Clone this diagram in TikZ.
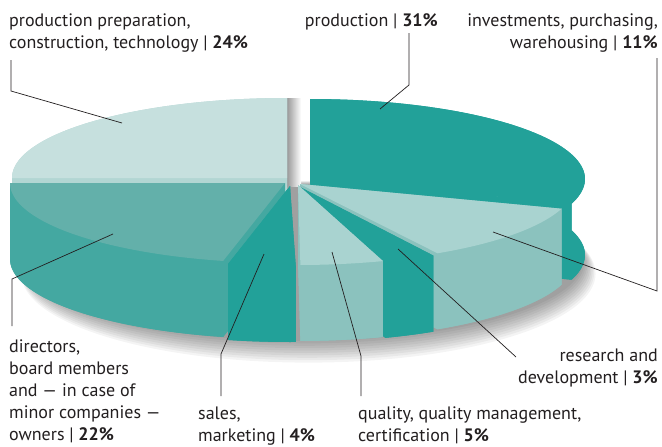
\documentclass[tikz,border=0pt]{standalone}
\usepackage{fontspec}
\setmainfont{PT Sans}
\definecolor{ink}{HTML}{231F20}
\definecolor{ppTop}{HTML}{C6E0DE}
\definecolor{ppSide}{HTML}{B2D6D3}
\definecolor{tealD}{HTML}{22A199}
\definecolor{dirTop}{HTML}{63B0AA}
\definecolor{dirWall}{HTML}{44A8A1}
\definecolor{ltTop}{HTML}{A9D3D0}
\definecolor{ltWall}{HTML}{8BC2BE}
\def\pieRx{275}
\def\pieRy{80}
\def\pieH{76}
\newcommand\pieslice[6]{%
  \fill[#6] (#1,#2+\pieH) -- plot[domain=#3:#4,samples=60,variable=\t] ({#1+\pieRx*cos(\t)},{#2+\pieH-\pieRy*sin(\t)}) -- cycle;
  \fill[#6] (#1,#2) -- ({#1+\pieRx*cos(#3)},{#2-\pieRy*sin(#3)}) -- ({#1+\pieRx*cos(#3)},{#2+\pieH-\pieRy*sin(#3)}) -- (#1,#2+\pieH) -- cycle;
  \fill[#6] (#1,#2) -- ({#1+\pieRx*cos(#4)},{#2-\pieRy*sin(#4)}) -- ({#1+\pieRx*cos(#4)},{#2+\pieH-\pieRy*sin(#4)}) -- (#1,#2+\pieH) -- cycle;
  \fill[#6] plot[domain=#3:#4,samples=60,variable=\t] ({#1+\pieRx*cos(\t)},{#2-\pieRy*sin(\t)}) -- plot[domain=#4:#3,samples=60,variable=\t] ({#1+\pieRx*cos(\t)},{#2+\pieH-\pieRy*sin(\t)}) -- cycle;
  \fill[#5] (#1,#2) -- plot[domain=#3:#4,samples=60,variable=\t] ({#1+\pieRx*cos(\t)},{#2-\pieRy*sin(\t)}) -- cycle;
}
\begin{document}
\begin{tikzpicture}[x=1pt,y=-1pt,
  lbl/.style={font=\fontsize{18}{22}\selectfont, text=ink, inner sep=0pt},
  leader/.style={draw=ink, line width=0.7pt}]
\useasboundingbox (0,0) rectangle (662,447);
\fill[white] (0,0) rectangle (662,447);
% soft shadow under the pie
\foreach \k in {0,...,9}
  \fill[black,opacity=0.045] ({303+0.6*\k},{261+1.4*\k}) ellipse [x radius={280pt+0.8pt*\k}, y radius={80pt+1.0pt*\k}];
% shadow in the back gap
\shade[left color=black!40, right color=white] (287,98) rectangle (301,186);
% slices, back to front
\pieslice{287}{178}{90}{180}{ppTop}{ppSide}
\pieslice{310}{179}{-18}{90}{tealD}{tealD}
\pieslice{285}{183}{180}{257}{dirTop}{dirWall}
\pieslice{300}{184}{300}{342}{ltTop}{ltWall}
\pieslice{298}{186}{288.5}{299.5}{tealD}{tealD}
\pieslice{298}{185}{270.5}{288}{ltTop}{ltWall}
\pieslice{290}{186}{257}{271.2}{tealD}{tealD}
% labels
\node[lbl, anchor=base west] (ppL) at (9,26) {\begin{tabular}[t]{@{}l@{}}production preparation,\\construction, technology | \textbf{24\%}\end{tabular}};
\node[lbl, anchor=base east] (prL) at (438,26) {production | \textbf{31\%}};
\node[lbl, anchor=base east] (invL) at (658,26) {\begin{tabular}[t]{@{}r@{}}investments, purchasing,\\warehousing | \textbf{11\%}\end{tabular}};
\node[lbl, anchor=base west] (dirL) at (9,352) {\begin{tabular}[t]{@{}l@{}}directors,\\board members\\and — in case of\\minor companies —\\owners | \textbf{22\%}\end{tabular}};
\node[lbl, anchor=base west] (salL) at (198,419) {\begin{tabular}[t]{@{}l@{}}sales,\\marketing | \textbf{4\%}\end{tabular}};
\node[lbl, anchor=base west] (quaL) at (358,419) {\begin{tabular}[t]{@{}l@{}}quality, quality management,\\certification | \textbf{5\%}\end{tabular}};
\node[lbl, anchor=base east] (rdL) at (658,361) {\begin{tabular}[t]{@{}r@{}}research and\\development | \textbf{3\%}\end{tabular}};
% leader lines
\coordinate (ppA) at (11,60); \coordinate (ppB) at (11,91); \coordinate (ppC) at (122,123);
\coordinate (prA) at (409,33); \coordinate (prB) at (409,85); \coordinate (prC) at (380,109);
\coordinate (invA) at (657,58); \coordinate (invB) at (657,291); \coordinate (invC) at (493,232);
\coordinate (dirA) at (12,326); \coordinate (dirB) at (12,279); \coordinate (dirC) at (113,234);
\coordinate (salA) at (221,396); \coordinate (salB) at (221,354); \coordinate (salC) at (264,254);
\coordinate (quaA) at (361,396); \coordinate (quaB) at (361,356); \coordinate (quaC) at (332,252);
\coordinate (rdA) at (516,357); \coordinate (rdC) at (398,249);
\draw[leader] (ppA) -- (ppB) -- (ppC);
\draw[leader] (prA) -- (prB) -- (prC);
\draw[leader] (invA) -- (invB) -- (invC);
\draw[leader] (dirA) -- (dirB) -- (dirC);
\draw[leader] (salA) -- (salB) -- (salC);
\draw[leader] (quaA) -- (quaB) -- (quaC);
\draw[leader] (rdA) -- (rdC);
\end{tikzpicture}
\end{document}
